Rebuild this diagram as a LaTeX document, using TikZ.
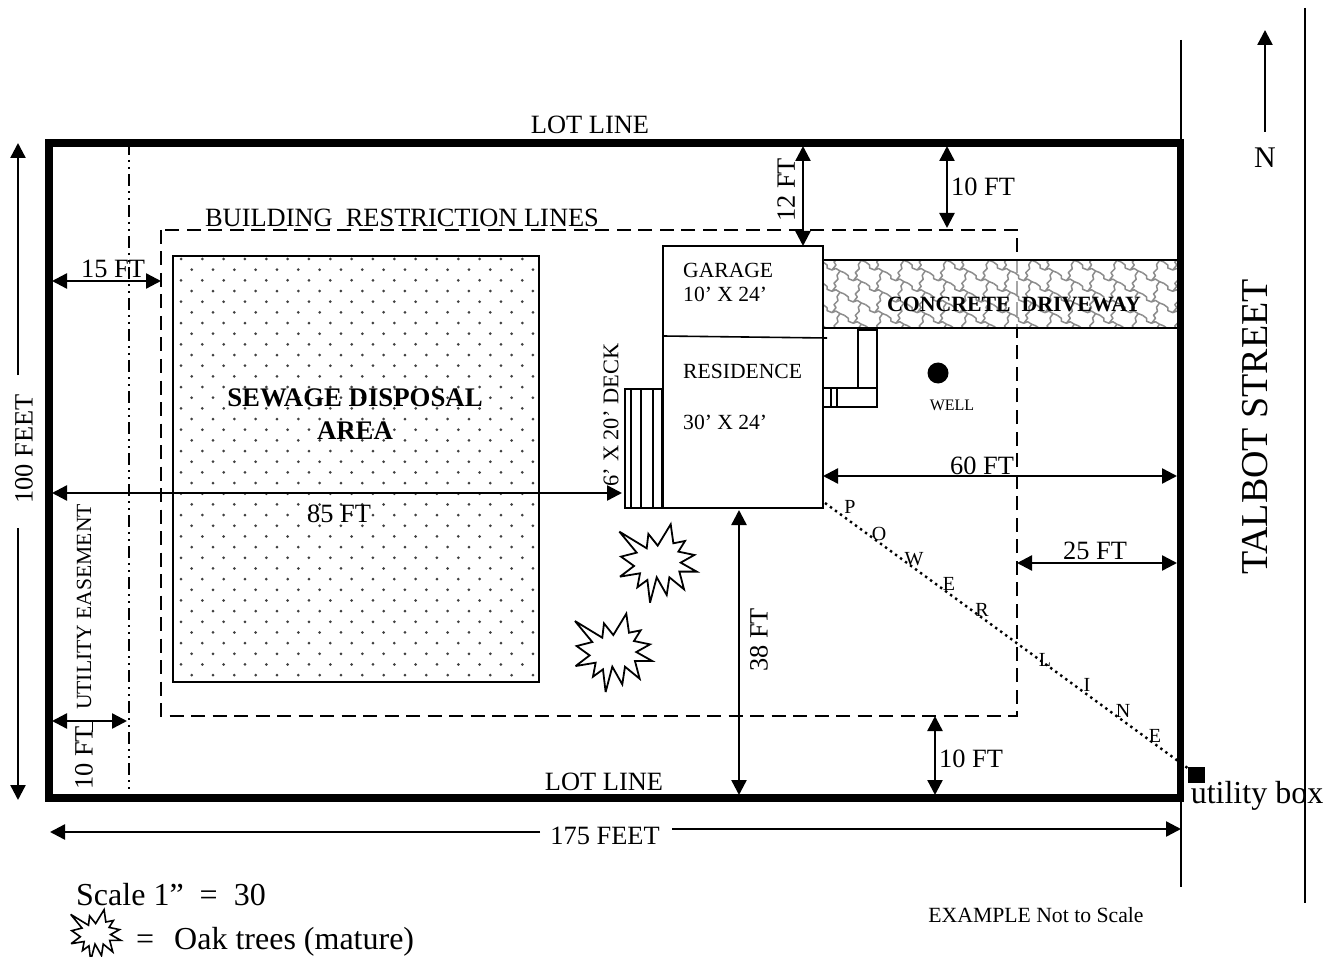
\documentclass[tikz,border=0pt]{standalone}
\usepackage{fontspec}
\setmainfont{Liberation Serif}
\usetikzlibrary{arrows.meta}
\newcommand{\fs}[1]{\fontsize{#1}{#1}\selectfont}
\newcommand{\dimline}[3]{\coordinate (#1a) at (#2);\coordinate (#1b) at (#3);\draw[dimarrow] (#1a) -- (#1b);}
\newcommand{\oakstar}[3]{\begin{scope}[shift={(#1)},scale=#2/3]
\draw[line width=#3,fill=white,miter limit=4] (-112,-95) -- (-30,-45) -- (-25,-88) -- (3,-53) -- (42,-117) -- (50,-60) -- (85,-67) -- (65,-35) -- (113,-25) -- (72,-2) -- (120,25) -- (68,25) -- (82,78) -- (38,42) -- (30,95) -- (0,42) -- (-20,118) -- (-28,50) -- (-58,72) -- (-50,30) -- (-110,40) -- (-68,8) -- (-107,-20) -- (-60,-32) -- cycle;
\end{scope}}
\tikzset{
 lab/.style={inner sep=0pt,font=\fs{26.4}},
 small/.style={inner sep=0pt,font=\fs{21.6}},
 plain/.style={line width=1.6pt},
 dimarrow/.style={line width=2.4pt,{Triangle[length=15pt,width=15pt]}-{Triangle[length=15pt,width=15pt]}},
 onearrow/.style={line width=2.4pt,-{Triangle[length=15pt,width=15pt]}},
 pw/.style={inner sep=0pt,font=\fs{20}}
}
\begin{document}
\begin{tikzpicture}[x=1pt,y=-1pt]
\useasboundingbox (0,0) rectangle (1338,957);
% street lines
\draw[plain] (1181,40) -- (1181,887);
\draw[plain] (1305,8) -- (1305,903);
% restriction lines
\draw[line width=1.8pt,dash pattern=on 14pt off 7.5pt] (161,230) rectangle (1017,716);
% driveway
\fill[white,opacity=.65] (823,260) rectangle (1181,328);
\begin{scope}
\clip (823,260) rectangle (1181,328);
\foreach \r in {-10,...,4}{
 \foreach \c in {0,...,18}{
  \pgfmathsetmacro{\px}{823+21.3*\c}
  \pgfmathsetmacro{\py}{262+10.65*\c+21.3*\r}
  \draw[line width=1.5pt,gray!90,line join=round,shift={(\px,\py)}]
   (0,0) -- (4,3) -- (4,6) -- (9,8) -- (13,6.5) -- (17,9) -- (21.3,10.65)
   (9,8) -- (13,3) -- (11,0) -- (15,-4) -- (14,-8) -- (17,-12.3);
 }
}
\end{scope}
\draw[plain] (823,260) rectangle (1181,328);
% easement
\draw[line width=1.6pt,dash pattern=on 12pt off 5pt on 2pt off 5pt on 2pt off 5pt] (129,143) -- (129,798);
% lot
\draw[line width=7.5pt] (49,143) rectangle (1180.5,798);
% sewage
\begin{scope}
\clip (173,256) rectangle (539,682);
\foreach \r in {0,...,39}{
 \pgfmathsetmacro{\py}{259+10.67*\r}
 \pgfmathtruncatemacro{\odd}{mod(\r,2)}
 \foreach \c in {0,...,17}{
  \pgfmathsetmacro{\px}{181+21.33*\c+10.67*\odd}
  \fill[black!75] (\px,\py) circle (1.5pt);
 }
}
\end{scope}
\draw[plain] (173,256) rectangle (539,682);
% house
\draw[plain] (663,246) rectangle (823,508);
\draw[plain] (663,336) -- (827,338);
% deck
\draw[plain] (625,389) rectangle (663,508);
\foreach \x in {631,641,653}{\draw[plain] (\x,389) -- (\x,508);}
\draw[line width=3pt] (662,389) -- (662,508);
% steps
\draw[plain] (858,330) rectangle (877,388);
\draw[plain] (823,388) rectangle (877,407);
\draw[plain] (831,388) -- (831,407);
\draw[plain] (837,388) -- (837,407);
% well
\node[circle,fill=black,minimum size=21pt,inner sep=0pt] (well) at (938,373) {};
% trees
\oakstar{656.7,563.3}{1}{1.8pt}
\oakstar{612.3,652.7}{1}{1.8pt}
\oakstar{95,935}{0.65}{1.6pt}
% power line
\node[draw,fill=black,minimum width=16pt,minimum height=15pt,inner sep=0pt] (ubox) at (1196.5,774.5) {};
\coordinate (pwstart) at (825,503);
\draw[line width=2.4pt,dash pattern=on 2.4pt off 3.8pt] (pwstart) -- (ubox);
\foreach \t/\x/\y in {P/850/507,O/879/534,W/914/559,E/949/584,R/982/610,L/1045/660,I/1087/685,N/1123/711,E/1155/736}{
 \node[pw] at (\x,\y) {\t};
}
% dimensions
\dimline{dtwelve}{803,146}{803,246}
\dimline{dtentop}{947,146}{947,228}
\dimline{dfifteen}{52,281}{161,281}
\dimline{deightyfive}{52,493}{622,493}
\dimline{dsixty}{823,476}{1177,476}
\dimline{dtwentyfive}{1017,563}{1177,563}
\dimline{dthirtyeight}{739,510}{739,795}
\dimline{dtenbot}{935,716}{935,795}
\dimline{dtenleft}{52,721}{127,721}
\coordinate (lfa) at (540,832);\coordinate (lfb) at (50,832);
\draw[onearrow] (lfa) -- (lfb);
\coordinate (rfa) at (672,829);\coordinate (rfb) at (1181,829);
\draw[onearrow] (rfa) -- (rfb);
\coordinate (hua) at (18,375);\coordinate (hub) at (18,143);
\draw[onearrow] (hua) -- (hub);
\coordinate (hda) at (18,528);\coordinate (hdb) at (18,800);
\draw[onearrow] (hda) -- (hdb);
\coordinate (na) at (1265,132);\coordinate (nb) at (1265,30);
\draw[onearrow] (na) -- (nb);
\coordinate (tka) at (92.5,720);\coordinate (tkb) at (92.5,732);
\draw[plain] (tka) -- (tkb);
% labels
\node[lab] (t1) at (590,125) {LOT LINE};
\node[lab] (t2) at (604,782) {LOT LINE};
\node[lab] (t3) at (402,218) {BUILDING\ \ RESTRICTION LINES};
\node[lab] (t4) at (113,269) {15 FT};
\node[lab,rotate=90] (t5) at (786,190) {12 FT};
\node[lab] (t6) at (983,187) {10 FT};
\node[inner sep=0pt,font=\fs{30}] (t7) at (1265,158) {N};
\node[inner sep=0pt,font=\fs{38},rotate=90] (t8) at (1255,427) {TALBOT STREET};
\node[lab,rotate=90] (t9) at (24,449) {100 FEET};
\node[small,rotate=90] (t10) at (84,607) {UTILITY EASEMENT};
\node[lab,rotate=90] (t11) at (84,758) {10 FT};
\node[inner sep=0pt,font=\fs{26.8}\bfseries,align=center] (t12) at (355,414) {SEWAGE DISPOSAL\\[6pt]AREA};
\node[lab] (t13) at (339,514) {85 FT};
\node[inner sep=0pt,font=\fs{22.4},rotate=90] (t14) at (611,415) {6’ X 20’ DECK};
\node[small,anchor=west] (t15) at (683,270) {GARAGE};
\node[small,anchor=west] (t16) at (683,294) {10’ X 24’};
\node[small,anchor=west] (t17) at (683,371) {RESIDENCE};
\node[small,anchor=west] (t18) at (683,422) {30’ X 24’};
\node[inner sep=0pt,font=\fs{21.8}\bfseries] (t19) at (1014,304) {CONCRETE\ \ DRIVEWAY};
\node[inner sep=0pt,font=\fs{16}] (t20) at (952,405) {WELL};
\node[lab] (t21) at (982,466) {60 FT};
\node[lab] (t22) at (1095,551) {25 FT};
\node[lab,rotate=90] (t23) at (759,640) {38 FT};
\node[lab] (t24) at (971,759) {10 FT};
\node[lab] (t25) at (605,836) {175 FEET};
\node[inner sep=0pt,font=\fs{32}] (t26) at (1257,796) {utility box};
\node[inner sep=0pt,font=\fs{21.7}] (t27) at (1036,915) {EXAMPLE Not to Scale};
\node[inner sep=0pt,font=\fs{32},anchor=west] (t28) at (76,895) {Scale 1”\ \ =\ \ 30};
\node[inner sep=0pt,font=\fs{32},anchor=west] (t29) at (136,942) {=\hspace{20pt}Oak trees (mature)};
\end{tikzpicture}
\end{document}
